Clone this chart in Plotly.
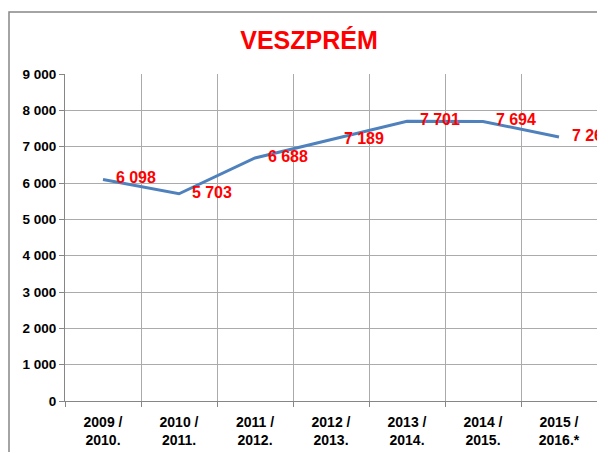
import plotly.graph_objects as go

categories = ["2009 /<br>2010.", "2010 /<br>2011.", "2011 /<br>2012.", "2012 /<br>2013.",
              "2013 /<br>2014.", "2014 /<br>2015.", "2015 /<br>2016.*"]
values = [6098, 5703, 6688, 7189, 7701, 7694, 7266]
y_ticks = [0, 1000, 2000, 3000, 4000, 5000, 6000, 7000, 8000, 9000]
y_tick_labels = ["0", "1 000", "2 000", "3 000", "4 000", "5 000", "6 000", "7 000", "8 000", "9 000"]
title = "VESZPRÉM"

labels = [f"{v:,}".replace(",", " ") for v in values]
font_family = "Liberation Sans, Arial, sans-serif"

L, R, T, B = 57, 16, 66, 59
W, H = 605, 452
pw, ph = W - L - R, H - T - B

fig = go.Figure()
fig.add_trace(go.Scatter(
    x=categories, y=values, mode="lines+markers+text",
    line=dict(color="#4F81BD", width=3),
    marker=dict(size=19, color="rgba(0,0,0,0)"),
    text=labels, textposition="middle right",
    textfont=dict(color="#FF0000", size=16, family=font_family, weight="bold"),
    cliponaxis=False, showlegend=False, hoverinfo="skip"
))

fig.update_layout(
    width=W, height=H,
    margin=dict(l=L, r=R, t=T, b=B, autoexpand=False),
    paper_bgcolor="white", plot_bgcolor="white",
    title=dict(text=title, x=301 / W, xanchor="center", y=1 - 32 / H, yanchor="middle",
               font=dict(color="#FF0000", size=25, family=font_family, weight="bold")),
    font=dict(family=font_family, color="black"),
)
fig.update_xaxes(
    type="category", tickson="boundaries", showgrid=True, gridcolor="#ABABAB", gridwidth=1,
    showline=True, linecolor="#868686", ticks="outside", ticklen=5, tickcolor="#868686",
    tickfont=dict(size=14, weight="bold", family=font_family), zeroline=False,
    range=[-0.5, 6.5], automargin=False, ticklabelstandoff=8,
)
fig.update_yaxes(
    range=[0, 9000], tickvals=y_ticks, ticktext=y_tick_labels,
    showgrid=True, gridcolor="#ABABAB", gridwidth=1,
    showline=True, linecolor="#868686", ticks="outside", ticklen=5, tickcolor="#868686",
    tickfont=dict(size=13.5, weight="bold", family=font_family), zeroline=False,
    automargin=False,
)
# outer chart border
fig.add_shape(type="rect", xref="paper", yref="paper",
              x0=(1 - L) / pw, x1=(W + 20 - L) / pw,
              y0=-(B + 20) / ph, y1=1 + (T - 4) / ph,
              line=dict(color="#868686", width=1.5), fillcolor="rgba(0,0,0,0)", layer="below")

fig.write_html("out.html")
